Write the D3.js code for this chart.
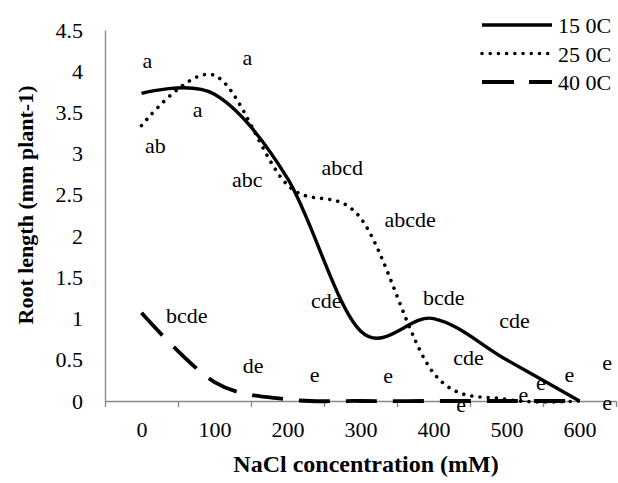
<!DOCTYPE html>
<html>
<head>
<meta charset="utf-8">
<script src="https://cdn.jsdelivr.net/npm/d3@7"></script>
<style>
  body { margin: 0; background: #fff; }
  svg text { font-family: "Liberation Serif", "Times New Roman", Times, serif; }
  .axis path, .axis line { stroke: #898989; stroke-width: 1.4; }
  .axis text { fill: #000; font-size: 22px; }
  .axis-title { font-size: 22px; font-weight: bold; fill: #000; }
  .x-title { font-size: 24px; }
  .sig { font-size: 22px; fill: #000; }
  .legend-text { font-size: 22px; fill: #000; }
</style>
</head>
<body>
<svg id="chart"></svg>
<script>
// NaCl concentration (mM) and root length (mm plant-1) per temperature
const nacl = [0, 100, 200, 300, 400, 500, 600];
const root15 = [3.73, 3.72, 2.7, 0.85, 1.0, 0.5, 0];
const root25 = [3.34, 3.95, 2.62, 2.22, 0.34, 0.02, 0];
const root40 = [1.07, 0.23, 0.02, 0, 0, 0, 0];
const seriesNames = ["15 0C", "25 0C", "40 0C"];

const yTicks = [0, 0.5, 1, 1.5, 2, 2.5, 3, 3.5, 4, 4.5];

// significance letters (text, position in data units)
const sigText = ["a", "a", "a", "ab", "abc", "abcd", "abcde", "cde", "bcde", "cde", "cde",
  "bcde", "de", "e", "e", "e", "e", "e", "e", "e", "e"];
const sigX = [8, 145, 77, 19, 145, 275, 368, 253, 414, 511, 448,
  62, 153, 237, 338, 438, 523, 547, 586, 638, 638];
const sigY = [4.04, 4.08, 3.44, 3.01, 2.6, 2.74, 2.11, 1.13, 1.16, 0.89, 0.44,
  0.95, 0.34, 0.23, 0.22, -0.13, -0.01, 0.13, 0.23, 0.38, -0.11];

const W = 618, H = 483;
const plot = { left: 105, right: 616, top: 30, bottom: 401 };

const svg = d3.select("#chart").attr("width", W).attr("height", H);

const x = d3.scaleLinear().domain([-50, 650]).range([plot.left, plot.right]);
const y = d3.scaleLinear().domain([0, 4.5]).range([plot.bottom, plot.top]);

// category boundaries for tick marks
const bounds = d3.range(-50, 651, 100);

svg.append("g").attr("class", "axis")
  .attr("transform", `translate(0,${plot.bottom})`)
  .call(d3.axisBottom(x).tickValues(bounds).tickSize(6).tickSizeOuter(0).tickFormat(""));

const xl = svg.append("g").attr("class", "axis")
  .attr("transform", `translate(0,${plot.bottom})`)
  .call(d3.axisBottom(x).tickValues(nacl).tickSize(0).tickPadding(20.4).tickFormat(d3.format("d")))
  .attr("font-family", null).attr("font-size", null);
xl.select(".domain").remove();

svg.append("g").attr("class", "axis")
  .attr("transform", `translate(${plot.left},0)`)
  .call(d3.axisLeft(y).tickValues(yTicks).tickSize(0).tickSizeOuter(0).tickPadding(22).tickFormat(d => d))
  .attr("font-family", null).attr("font-size", null);

const styles = [
  { width: 3.4, dash: null, cap: "butt" },
  { width: 3.6, dash: "0.01 8.2", cap: "round" },
  { width: 3.8, dash: "31 16", cap: "butt" },
];
const data = [root15, root25, root40];

const line = d3.line()
  .x((d, i) => x(nacl[i]))
  .y(d => y(d))
  .curve(d3.curveCardinal.tension(0));

data.forEach((vals, k) => {
  svg.append("path")
    .attr("d", line(vals))
    .attr("fill", "none")
    .attr("stroke", "#000")
    .attr("stroke-width", styles[k].width)
    .attr("stroke-dasharray", styles[k].dash)
    .attr("stroke-linecap", styles[k].cap);
});

svg.append("g").selectAll("text")
  .data(sigText)
  .join("text")
  .attr("class", "sig")
  .attr("text-anchor", "middle")
  .attr("x", (d, i) => x(sigX[i]))
  .attr("y", (d, i) => y(sigY[i]))
  .text(d => d);

// legend
const lg = svg.append("g").attr("transform", "translate(482,25)");
seriesNames.forEach((name, k) => {
  lg.append("line")
    .attr("x1", 0).attr("x2", 70)
    .attr("y1", k * 28.5).attr("y2", k * 28.5)
    .attr("stroke", "#000")
    .attr("stroke-width", styles[k].width)
    .attr("stroke-dasharray", k === 2 ? "32 15" : styles[k].dash)
    .attr("stroke-linecap", styles[k].cap);
  lg.append("text").attr("class", "legend-text")
    .attr("x", 76).attr("y", k * 28.5 + 8)
    .text(name);
});

svg.append("text").attr("class", "axis-title x-title")
  .attr("text-anchor", "middle")
  .attr("x", 366).attr("y", 472)
  .text("NaCl concentration (mM)");

svg.append("text").attr("class", "axis-title")
  .attr("text-anchor", "middle")
  .attr("transform", "translate(33,205) rotate(-90)")
  .text("Root length (mm plant-1)");
</script>
</body>
</html>
